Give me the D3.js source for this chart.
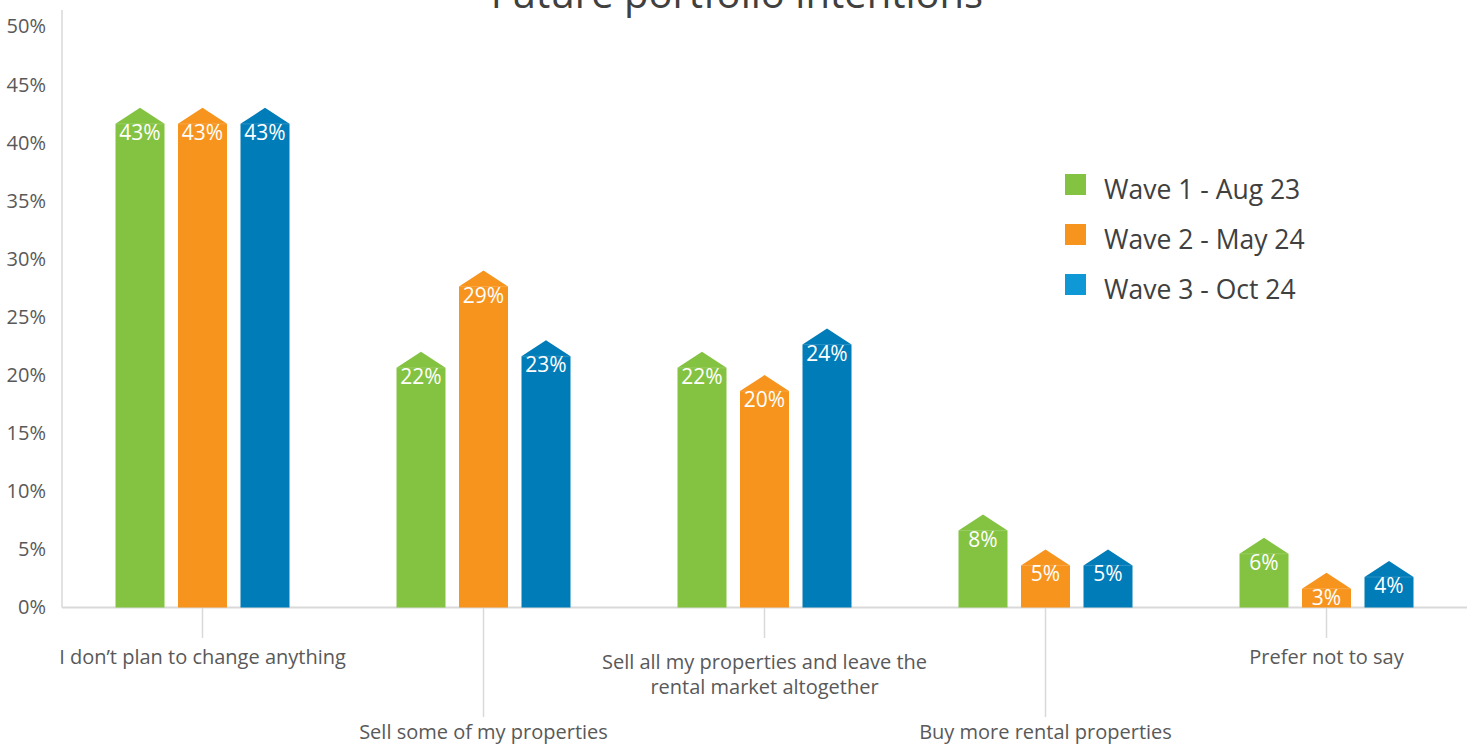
<!DOCTYPE html>
<html>
<head>
<meta charset="utf-8">
<script src="https://cdn.jsdelivr.net/npm/d3@7/dist/d3.min.js"></script>
<style>
  html, body { margin: 0; padding: 0; background: #ffffff; }
  svg { display: block; font-family: "Open Sans", "Noto Sans", sans-serif; }
</style>
</head>
<body>
<svg id="chart" width="1475" height="745"></svg>
<script>
// Survey answers, one entry per category (line breaks mark wrapped labels)
const categories = [
  "I don’t plan to change anything",
  "Sell some of my properties",
  "Sell all my properties and leave the\nrental market altogether",
  "Buy more rental properties",
  "Prefer not to say"
];
const seriesNames = ["Wave 1 - Aug 23", "Wave 2 - May 24", "Wave 3 - Oct 24"];
const wave1 = [43, 22, 22, 8, 6];
const wave2 = [43, 29, 20, 5, 3];
const wave3 = [43, 23, 24, 5, 4];
const yTicks = [0, 5, 10, 15, 20, 25, 30, 35, 40, 45, 50];

const barColors = ["#84c341", "#f7941e", "#007cb8"];
const legendColors = ["#84c341", "#f7941e", "#0e98d6"];

const svg = d3.select("#chart");
const plotLeft = 62, plotRight = 1467, plotBottom = 607.5, plotTop = 26.5;

const series = [wave1, wave2, wave3];
const rows = categories.map((c, i) => ({ cat: c, values: series.map(s => s[i]) }));

const x0 = d3.scaleBand().domain(categories).range([plotLeft, plotRight]).padding(0);
const x1 = d3.scaleBand().domain(seriesNames)
  .range([53.5, x0.bandwidth() - 53.5]).paddingInner(0.216).paddingOuter(0);
const y = d3.scaleLinear().domain([0, 50]).range([plotBottom, plotTop]);

// Title
svg.append("text")
  .attr("x", 737).attr("y", 8)
  .attr("text-anchor", "middle")
  .attr("font-size", 40)
  .attr("font-weight", 400)
  .attr("fill", "#404040")
  .text("Future portfolio intentions");

// Y axis: tick labels only, plus a light vertical rule
const yAxis = svg.append("g")
  .attr("transform", `translate(${plotLeft},0)`)
  .call(d3.axisLeft(y).tickValues(yTicks).tickSize(0).tickPadding(16)
    .tickFormat(d => d + "%"));
yAxis.select(".domain").remove();
yAxis.selectAll("text")
  .attr("font-size", 20).attr("fill", "#595959")
  .attr("font-family", "'Open Sans', sans-serif");
svg.append("line")
  .attr("x1", plotLeft).attr("x2", plotLeft).attr("y1", 10).attr("y2", plotBottom)
  .attr("stroke", "#d9d9d9").attr("stroke-width", 1.5);

// X axis baseline
svg.append("line")
  .attr("x1", plotLeft).attr("x2", plotRight).attr("y1", plotBottom).attr("y2", plotBottom)
  .attr("stroke", "#d9d9d9").attr("stroke-width", 2);

// Category ticks and staggered labels
const cats = svg.append("g").selectAll("g").data(categories).join("g")
  .attr("transform", d => `translate(${x0(d) + x0.bandwidth() / 2},0)`);
cats.append("line")
  .attr("y1", plotBottom).attr("y2", (d, i) => i % 2 === 0 ? 638 : 717)
  .attr("stroke", "#d9d9d9").attr("stroke-width", 1.5);
cats.each(function (d, i) {
  const lines = d.split("\n");
  const base = i % 2 === 0 ? (lines.length > 1 ? 669 : 664) : 739;
  const t = d3.select(this).append("text")
    .attr("text-anchor", "middle")
    .attr("font-size", 20).attr("fill", "#595959");
  lines.forEach((ln, k) => {
    t.append("tspan").attr("x", 0).attr("y", base + k * 25).text(ln);
  });
});

// Bars with a pointed roof; the apex sits at the value
const roof = 16;
const groups = svg.append("g").selectAll("g").data(rows).join("g")
  .attr("transform", d => `translate(${x0(d.cat)},0)`);
const bars = groups.selectAll("g").data(d => d.values.map((v, k) => ({ v, k }))).join("g")
  .attr("transform", d => `translate(${x1(seriesNames[d.k])},0)`);
const w = x1.bandwidth();
bars.append("path")
  .attr("fill", d => barColors[d.k])
  .attr("d", d => {
    const yt = y(d.v), ys = yt + roof;
    return `M0,${plotBottom}L0,${ys}L${w / 2},${yt}L${w},${ys}L${w},${plotBottom}Z`;
  });
bars.append("line")
  .attr("x1", 0).attr("x2", w)
  .attr("y1", d => y(d.v) + roof).attr("y2", d => y(d.v) + roof)
  .attr("stroke", "#ffffff").attr("stroke-opacity", 0.18).attr("stroke-width", 1);
bars.append("text")
  .attr("x", w / 2).attr("y", d => y(d.v) + 32)
  .attr("text-anchor", "middle")
  .attr("font-size", 21).attr("fill", "#ffffff")
  .text(d => d.v + "%");

// Legend
const legend = svg.append("g").selectAll("g").data(seriesNames).join("g")
  .attr("transform", (d, i) => `translate(1065,${174 + i * 50})`);
legend.append("rect")
  .attr("width", 21).attr("height", 21)
  .attr("fill", (d, i) => legendColors[i]);
legend.append("text")
  .attr("x", 39).attr("y", 25)
  .attr("font-size", 26.5).attr("fill", "#404040")
  .text(d => d);
</script>
</body>
</html>
